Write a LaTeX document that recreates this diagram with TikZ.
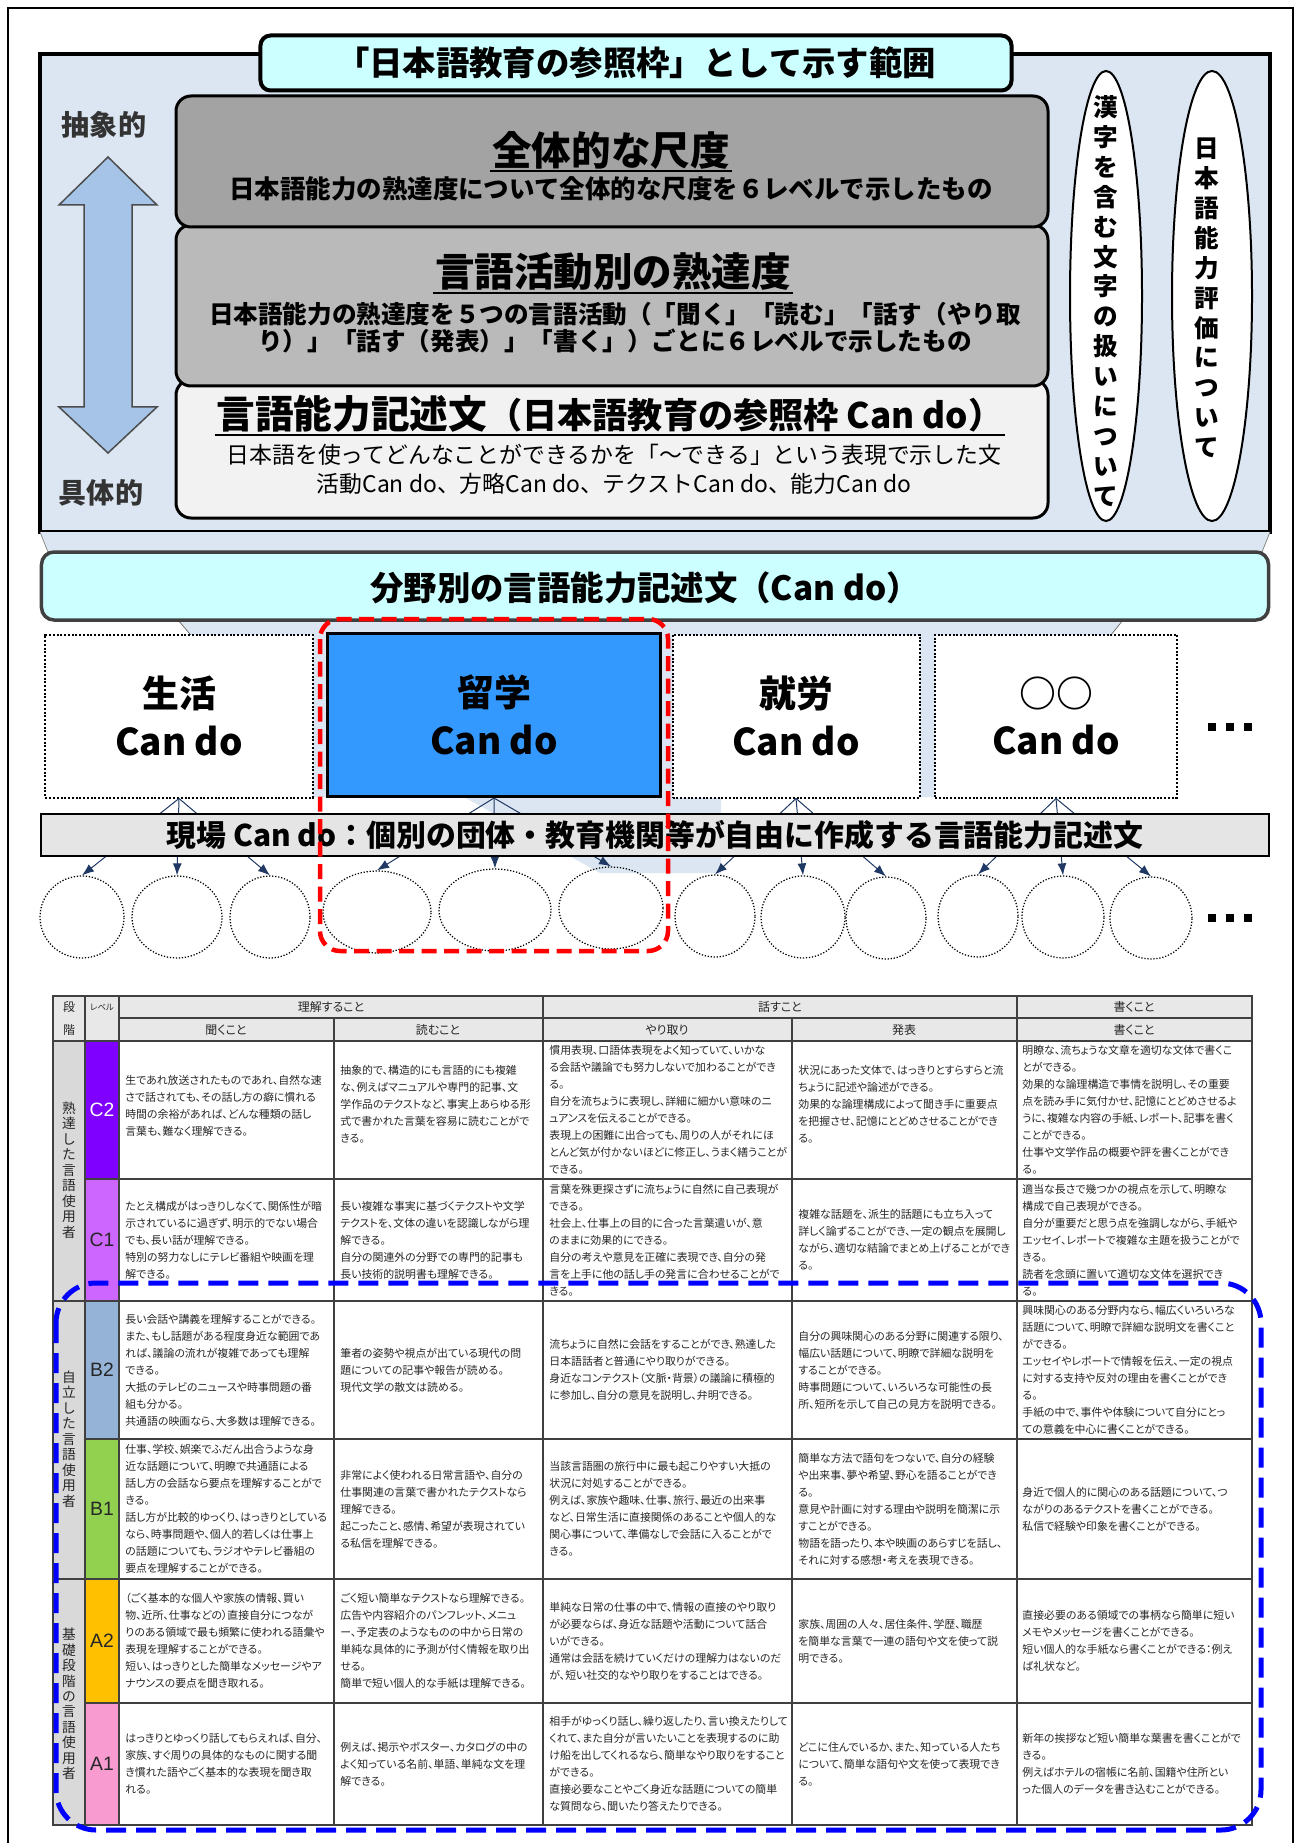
\documentclass[tikz,border=0pt]{standalone}
\usepackage{fontspec}
\setmainfont{Noto Sans CJK JP}
\newfontfamily\palfont[RawFeature=+palt]{Noto Sans CJK JP}
\newfontfamily\arialfont{Liberation Sans}
\usetikzlibrary{calc,positioning,shapes.geometric,arrows.meta}
\definecolor{frameblue}{HTML}{DCE6F2}
\definecolor{lightcyan}{HTML}{CCFFFF}
\definecolor{scaledark}{HTML}{A3A3A3}
\definecolor{scalemid}{HTML}{BABABA}
\definecolor{scalelight}{HTML}{F2F2F2}
\definecolor{arrowblue}{HTML}{A6C4E8}
\definecolor{studyblue}{HTML}{3399FF}
\definecolor{navy}{HTML}{1F3864}
\definecolor{lvCtwo}{HTML}{8000FF}
\definecolor{lvCone}{HTML}{CC66FF}
\definecolor{lvBtwo}{HTML}{95B3D7}
\definecolor{lvBone}{HTML}{92D050}
\definecolor{lvAtwo}{HTML}{FFC000}
\definecolor{lvAone}{HTML}{F79BD0}
\tikzset{fieldbox/.style={draw,densely dotted,line width=0.4mm,fill=white,minimum height=32.6mm,align=center,font=\bfseries\fontsize{21}{27}\selectfont},
dotcirc/.style={draw,densely dotted,line width=0.25mm,ellipse,minimum height=16.4mm,inner sep=0pt},
tolocal/.style={draw=navy,line width=0.2mm,-{Latex[length=2.4mm,width=1.8mm]}},
gridline/.style={draw=black!75,line width=0.25mm},
celltext/.style={anchor=west,align=left,inner sep=0pt,text=black!85,font=\palfont\fontsize{6.2}{9.7}\selectfont},
headtext/.style={inner sep=0pt,text=black!85,font=\palfont\fontsize{6.8}{7}\selectfont},
levtext/.style={inner sep=0pt,text=black!85,font=\arialfont\fontsize{11}{11}\selectfont},
tatetext/.style={align=center,inner sep=0pt,text=black!85,font=\fontsize{7.8}{8.8}\selectfont}}

\begin{document}
\begin{tikzpicture}[x=0.2mm,y=-0.2mm]
\useasboundingbox (0,0) rectangle (1300,1843);

% Page frame
\draw[line width=0.3mm] (8,1843) -- (8,8) -- (1293,8) -- (1293,1843);

% Reference frame
\draw[line width=0.8mm,fill=frameblue] (40,54) rectangle (1270,532);
\fill[frameblue] (40,532) -- (1270,532) -- (1262,552) -- (48,552) -- cycle;
\draw[black!50] (40,532) -- (48,552) (1270,532) -- (1262,552);
\node[draw,line width=0.8mm,fill=lightcyan,rounded corners=2mm,minimum width=150.2mm,minimum height=11mm,font=\bfseries\fontsize{19}{21}\selectfont] (range) at (636,63) {「日本語教育の参照枠」として示す範囲};

% Three scales
\draw[line width=0.6mm,fill=scalelight,rounded corners=3mm] (176,380) rectangle (1048,518);
\draw[line width=0.6mm,fill=scalemid,rounded corners=3mm] (176,225) rectangle (1048,386);
\draw[line width=0.6mm,fill=scaledark,rounded corners=3mm] (176,96) rectangle (1048,227);

\node[font=\bfseries\fontsize{22.5}{24}\selectfont,inner sep=1pt] (global) at (611,150) {全体的な尺度};
\draw[line width=0.45mm] (global.south west) -- (global.south east);
\node[font=\bfseries\fontsize{14.5}{15.4}\selectfont] (globalsub) at (611,189) {日本語能力の熟達度について全体的な尺度を６レベルで示したもの};

\node[font=\bfseries\fontsize{22.5}{24}\selectfont,inner sep=1pt] (activity) at (613,272) {言語活動別の熟達度};
\draw[line width=0.45mm] (activity.south west) -- (activity.south east);
\node[align=center,font=\bfseries\fontsize{14}{15.4}\selectfont] (activitysub) at (615,328) {日本語能力の熟達度を５つの言語活動（「聞く」「読む」「話す（やり取\\り）」「話す（発表）」「書く」）ごとに６レベルで示したもの};

\node[font=\bfseries,inner sep=1pt] (descr) at (610,414) {{\fontsize{22}{24}\selectfont 言語能力記述文}{\fontsize{20}{24}\selectfont （日本語教育の参照枠 Can do）}};
\draw[line width=0.45mm] (descr.south west) -- (descr.south east);
\node[align=center,font=\fontsize{13}{16.5}\selectfont] (descrsub) at (614,469) {日本語を使ってどんなことができるかを「～できる」という表現で示した文\\活動Can do、方略Can do、テクストCan do、能力Can do};

% Abstract / concrete
\node[font=\bfseries\fontsize{16}{18}\selectfont,text=black!80] (abstract) at (104,125) {抽象的};
\node[font=\bfseries\fontsize{16}{18}\selectfont,text=black!80] (concrete) at (101,493) {具体的};
\draw[fill=arrowblue,draw=black!70,line width=0.3mm] (108,157) -- (157,205) -- (132,205) -- (132,407) -- (157,407) -- (108,453) -- (59,407) -- (84,407) -- (84,205) -- (59,205) -- cycle;

% Side topics
\node[draw,ellipse,line width=0.4mm,fill=white,minimum width=14.4mm,minimum height=90mm] (kanji) at (1106,296) {};
\node[align=center,font=\bfseries\fontsize{14}{17}\selectfont] (kanjitxt) at (1106,301) {漢\\字\\を\\含\\む\\文\\字\\の\\扱\\い\\に\\つ\\い\\て};
\node[draw,ellipse,line width=0.4mm,fill=white,minimum width=16mm,minimum height=90mm] (hyoka) at (1212,296) {};
\node[align=center,font=\bfseries\fontsize{14}{17}\selectfont] (hyokatxt) at (1207,298) {日\\本\\語\\能\\力\\評\\価\\に\\つ\\い\\て};

% Field Can do
\fill[frameblue] (178,620) -- (1123,620) -- (1107,640) -- (1107,797) -- (195,797) -- (195,640) -- cycle;
\fill[frameblue] (464,797) -- (721,797) -- (721,873) -- (600,873) -- cycle;
\draw[black!60] (178,620) -- (195,640) (1123,620) -- (1107,640);
\node[draw=black!75,line width=0.7mm,fill=lightcyan,rounded corners=2.5mm,minimum width=245.4mm,minimum height=13.6mm] (bunya) at (655,586) {};
\node[font=\bfseries\fontsize{19}{21}\selectfont] (bunyatxt) at (645,588) {分野別の言語能力記述文（Can do）};

\node[fieldbox,minimum width=53.4mm] (seikatsu) at (179,716) {生活\\Can do};
\node[fieldbox,minimum width=66.6mm,fill=studyblue,solid,line width=0.6mm] (ryugaku) at (494,715) {留学\\Can do};
\node[fieldbox,minimum width=49.4mm] (shuro) at (796,716) {就労\\Can do};
\node[fieldbox,minimum width=48.4mm] (maru) at (1056,716) {○○\\Can do};

% Local Can do
\foreach \i/\x/\y/\w in {1/82/917/16.8,2/177/917/18,3/270/917/16,4/377/912/21.6,5/495/910/22.4,6/611/908/20.8,7/715/916/16,8/803/917/16.8,9/886/918/16,10/978/916/16,11/1063/917/16.4,12/1151/918/16.4}
  \node[dotcirc,minimum width=\w mm] (c\i) at (\x,\y) {};
\foreach \b/\a/\c in {seikatsu/1/3,ryugaku/4/6,shuro/7/9,maru/10/12}
  \foreach \i in {\a,...,\c} \draw[tolocal] (\b.south) -- (c\i.north);

\node[draw,line width=0.4mm,fill=black!10,minimum width=245.6mm,minimum height=8.2mm,font=\bfseries\fontsize{17}{19}\selectfont] (genba) at (655,835) {現場 Can do：個別の団体・教育機関等が自由に作成する言語能力記述文};

% More ...
\foreach \y in {727,918} \foreach \dx in {0,18,36} \fill (1208+\dx,\y-4) rectangle +(8,8);

% Highlight
\draw[red,line width=0.9mm,dash pattern=on 3mm off 1.5mm,rounded corners=4mm] (320,619) rectangle (668,951);

% Table
\fill[black!9] (53,996) rectangle (1252,1041);
\fill[black!15] (53,1041) rectangle (85,1825);
\foreach \ya/\yb/\col in {1041/1179/lvCtwo,1179/1301/lvCone,1301/1439/lvBtwo,1439/1579/lvBone,1579/1703/lvAtwo,1703/1825/lvAone}
  \fill[\col] (85,\ya) rectangle (119,\yb);
\draw[gridline] (53,996) rectangle (1252,1825);
\foreach \y in {1041,1301,1579} \draw[gridline] (53,\y) -- (1252,\y);
\foreach \y in {1179,1439,1703} \draw[gridline] (85,\y) -- (1252,\y);
\draw[gridline] (119,1018) -- (1252,1018);
\foreach \x in {85,119,543,1017} \draw[gridline] (\x,996) -- (\x,1825);
\foreach \x in {334,792} \draw[gridline] (\x,1018) -- (\x,1825);

% Table head
\node[headtext] (hdan) at (69,1007) {段};
\node[headtext] (hkai) at (69,1030) {階};
\node[headtext,font=\palfont\fontsize{4.8}{5}\selectfont] (hlevel) at (102,1007) {レベル};
\node[headtext] (hrikai) at (331,1007) {理解すること};
\node[headtext] (hhanasu) at (780,1007) {話すこと};
\node[headtext] (hkaku) at (1134,1007) {書くこと};
\node[headtext] (hkiku) at (226,1030) {聞くこと};
\node[headtext] (hyomu) at (438,1030) {読むこと};
\node[headtext] (hyari) at (667,1030) {やり取り};
\node[headtext] (hhappyo) at (904,1030) {発表};
\node[headtext] (hkaku2) at (1134,1030) {書くこと};

% Stages and levels
\node[tatetext] (user1) at (69,1170) {熟\\達\\し\\た\\言\\語\\使\\用\\者};
\node[tatetext] (user2) at (69,1439) {自\\立\\し\\た\\言\\語\\使\\用\\者};
\node[tatetext] (user3) at (69,1704) {基\\礎\\段\\階\\の\\言\\語\\使\\用\\者};
\node[levtext,text=white] (lC2) at (102,1110) {C2};
\node[levtext] (lC1) at (102,1240) {C1};
\node[levtext] (lB2) at (102,1370) {B2};
\node[levtext] (lB1) at (102,1509) {B1};
\node[levtext] (lA2) at (102,1641) {A2};
\node[levtext] (lA1) at (102,1764) {A1};

% C2
\node[celltext] (t11) at (125,1106) {生であれ放送されたものであれ、自然な速\\さで話されても、その話し方の癖に慣れる\\時間の余裕があれば、どんな種類の話し\\言葉も、難なく理解できる。};
\node[celltext] (t12) at (340,1104) {抽象的で、構造的にも言語的にも複雑\\な、例えばマニュアルや専門的記事、文\\学作品のテクストなど、事実上あらゆる形\\式で書かれた言葉を容易に読むことがで\\きる。};
\node[celltext] (t13) at (549,1110) {慣用表現、口語体表現をよく知っていて、いかな\\る会話や議論でも努力しないで加わることができ\\る。\\自分を流ちょうに表現し、詳細に細かい意味のニ\\ュアンスを伝えることができる。\\表現上の困難に出合っても、周りの人がそれにほ\\とんど気が付かないほどに修正し、うまく繕うことが\\できる。};
\node[celltext] (t14) at (798,1104) {状況にあった文体で、はっきりとすらすらと流\\ちょうに記述や論述ができる。\\効果的な論理構成によって聞き手に重要点\\を把握させ、記憶にとどめさせることができ\\る。};
\node[celltext] (t15) at (1022,1110) {明瞭な、流ちょうな文章を適切な文体で書くこ\\とができる。\\効果的な論理構造で事情を説明し、その重要\\点を読み手に気付かせ、記憶にとどめさせるよ\\うに、複雑な内容の手紙、レポート、記事を書く\\ことができる。\\仕事や文学作品の概要や評を書くことができ\\る。};

% C1
\node[celltext] (t21) at (125,1240) {たとえ構成がはっきりしなくて、関係性が暗\\示されているに過ぎず、明示的でない場合\\でも、長い話が理解できる。\\特別の努力なしにテレビ番組や映画を理\\解できる。};
\node[celltext] (t22) at (340,1240) {長い複雑な事実に基づくテクストや文学\\テクストを、文体の違いを認識しながら理\\解できる。\\自分の関連外の分野での専門的記事も\\長い技術的説明書も理解できる。};
\node[celltext] (t23) at (549,1240) {言葉を殊更探さずに流ちょうに自然に自己表現が\\できる。\\社会上、仕事上の目的に合った言葉遣いが、意\\のままに効果的にできる。\\自分の考えや意見を正確に表現でき、自分の発\\言を上手に他の話し手の発言に合わせることがで\\きる。};
\node[celltext] (t24) at (798,1240) {複雑な話題を、派生的話題にも立ち入って\\詳しく論ずることができ、一定の観点を展開し\\ながら、適切な結論でまとめ上げることができ\\る。};
\node[celltext] (t25) at (1022,1240) {適当な長さで幾つかの視点を示して、明瞭な\\構成で自己表現ができる。\\自分が重要だと思う点を強調しながら、手紙や\\エッセイ、レポートで複雑な主題を扱うことがで\\きる。\\読者を念頭に置いて適切な文体を選択でき\\る。};

% B2
\node[celltext] (t31) at (125,1370) {長い会話や講義を理解することができる。\\また、もし話題がある程度身近な範囲であ\\れば、議論の流れが複雑であっても理解\\できる。\\大抵のテレビのニュースや時事問題の番\\組も分かる。\\共通語の映画なら、大多数は理解できる。};
\node[celltext] (t32) at (340,1370) {筆者の姿勢や視点が出ている現代の問\\題についての記事や報告が読める。\\現代文学の散文は読める。};
\node[celltext] (t33) at (549,1370) {流ちょうに自然に会話をすることができ、熟達した\\日本語話者と普通にやり取りができる。\\身近なコンテクスト（文脈・背景）の議論に積極的\\に参加し、自分の意見を説明し、弁明できる。};
\node[celltext] (t34) at (798,1370) {自分の興味関心のある分野に関連する限り、\\幅広い話題について、明瞭で詳細な説明を\\することができる。\\時事問題について、いろいろな可能性の長\\所、短所を示して自己の見方を説明できる。};
\node[celltext] (t35) at (1022,1370) {興味関心のある分野内なら、幅広くいろいろな\\話題について、明瞭で詳細な説明文を書くこと\\ができる。\\エッセイやレポートで情報を伝え、一定の視点\\に対する支持や反対の理由を書くことができ\\る。\\手紙の中で、事件や体験について自分にとっ\\ての意義を中心に書くことができる。};

% B1
\node[celltext] (t41) at (125,1509) {仕事、学校、娯楽でふだん出合うような身\\近な話題について、明瞭で共通語による\\話し方の会話なら要点を理解することがで\\きる。\\話し方が比較的ゆっくり、はっきりとしている\\なら、時事問題や、個人的若しくは仕事上\\の話題についても、ラジオやテレビ番組の\\要点を理解することができる。};
\node[celltext] (t42) at (340,1509) {非常によく使われる日常言語や、自分の\\仕事関連の言葉で書かれたテクストなら\\理解できる。\\起こったこと、感情、希望が表現されてい\\る私信を理解できる。};
\node[celltext] (t43) at (549,1509) {当該言語圏の旅行中に最も起こりやすい大抵の\\状況に対処することができる。\\例えば、家族や趣味、仕事、旅行、最近の出来事\\など、日常生活に直接関係のあることや個人的な\\関心事について、準備なしで会話に入ることがで\\きる。};
\node[celltext] (t44) at (798,1509) {簡単な方法で語句をつないで、自分の経験\\や出来事、夢や希望、野心を語ることができ\\る。\\意見や計画に対する理由や説明を簡潔に示\\すことができる。\\物語を語ったり、本や映画のあらすじを話し、\\それに対する感想・考えを表現できる。};
\node[celltext] (t45) at (1022,1509) {身近で個人的に関心のある話題について、つ\\ながりのあるテクストを書くことができる。\\私信で経験や印象を書くことができる。};

% A2
\node[celltext] (t51) at (125,1641) {（ごく基本的な個人や家族の情報、買い\\物、近所、仕事などの）直接自分につなが\\りのある領域で最も頻繁に使われる語彙や\\表現を理解することができる。\\短い、はっきりとした簡単なメッセージやア\\ナウンスの要点を聞き取れる。};
\node[celltext] (t52) at (340,1641) {ごく短い簡単なテクストなら理解できる。\\広告や内容紹介のパンフレット、メニュ\\ー、予定表のようなものの中から日常の\\単純な具体的に予測が付く情報を取り出\\せる。\\簡単で短い個人的な手紙は理解できる。};
\node[celltext] (t53) at (549,1641) {単純な日常の仕事の中で、情報の直接のやり取り\\が必要ならば、身近な話題や活動について話合\\いができる。\\通常は会話を続けていくだけの理解力はないのだ\\が、短い社交的なやり取りをすることはできる。};
\node[celltext] (t54) at (798,1641) {家族、周囲の人々、居住条件、学歴、職歴\\を簡単な言葉で一連の語句や文を使って説\\明できる。};
\node[celltext] (t55) at (1022,1641) {直接必要のある領域での事柄なら簡単に短い\\メモやメッセージを書くことができる。\\短い個人的な手紙なら書くことができる：例え\\ば礼状など。};

% A1
\node[celltext] (t61) at (125,1764) {はっきりとゆっくり話してもらえれば、自分、\\家族、すぐ周りの具体的なものに関する聞\\き慣れた語やごく基本的な表現を聞き取\\れる。};
\node[celltext] (t62) at (340,1764) {例えば、掲示やポスター、カタログの中の\\よく知っている名前、単語、単純な文を理\\解できる。};
\node[celltext] (t63) at (549,1764) {相手がゆっくり話し、繰り返したり、言い換えたりして\\くれて、また自分が言いたいことを表現するのに助\\け船を出してくれるなら、簡単なやり取りをすること\\ができる。\\直接必要なことやごく身近な話題についての簡単\\な質問なら、聞いたり答えたりできる。};
\node[celltext] (t64) at (798,1764) {どこに住んでいるか、また、知っている人たち\\について、簡単な語句や文を使って表現でき\\る。};
\node[celltext] (t65) at (1022,1764) {新年の挨拶など短い簡単な葉書を書くことがで\\きる。\\例えばホテルの宿帳に名前、国籍や住所とい\\った個人のデータを書き込むことができる。};

% Highlight
\draw[blue,line width=1mm,dash pattern=on 4mm off 2mm,rounded corners=8mm] (56,1283) rectangle (1261,1830);

\end{tikzpicture}
\end{document}
